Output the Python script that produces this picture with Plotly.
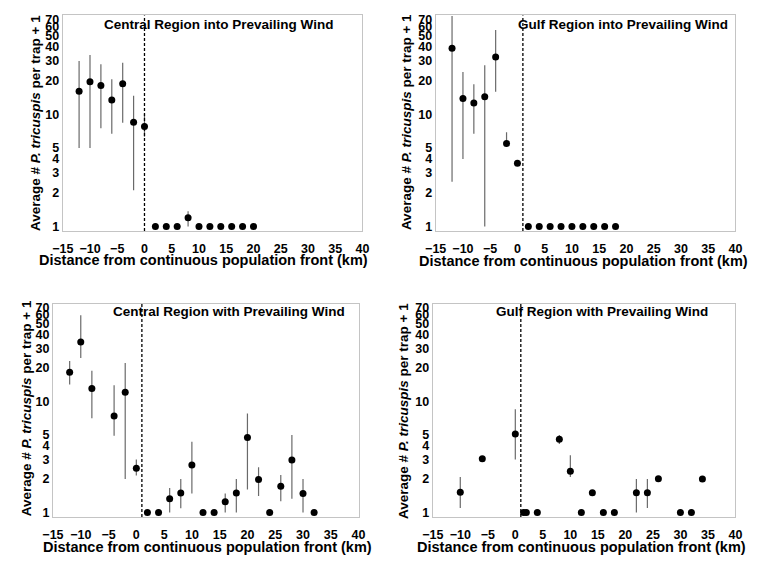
import plotly.graph_objects as go

# ---------------- data ----------------
titles = [
    "Central Region into Prevailing Wind",
    "Gulf Region into Prevailing Wind",
    "Central Region with Prevailing Wind",
    "Gulf Region with Prevailing Wind",
]
x_title = "Distance from continuous population front (km)"
y_title = "Average # <i>P. tricuspis</i> per trap + 1"

x_ticks = [-15, -10, -5, 0, 5, 10, 15, 20, 25, 30, 35, 40]
y_ticks = [1, 2, 3, 4, 5, 10, 20, 30, 40, 50, 60, 70]

front_km = [0, 1, 1, 1]  # dashed line: continuous population front

# Central region into prevailing wind
ci_x = [-12, -10, -8, -6, -4, -2, 0, 2, 4, 6, 8, 10, 12, 14, 16, 18, 20]
ci_y = [16.0, 19.5, 18.0, 13.4, 18.7, 8.5, 7.8, 1, 1, 1, 1.2, 1, 1, 1, 1, 1, 1]
ci_hi = [29.8, 33.8, 27.9, 20.5, 28.8, 14.6, 10.1, 1, 1, 1, 1.37, 1, 1, 1, 1, 1, 1]
ci_lo = [5.0, 5.0, 7.5, 6.7, 8.4, 2.1, 6.3, 1, 1, 1, 1.0, 1, 1, 1, 1, 1, 1]

# Gulf region into prevailing wind
gi_x = [-12, -10, -8, -6, -4, -2, 0, 2, 4, 6, 8, 10, 12, 14, 16, 18]
gi_y = [38.7, 13.8, 12.6, 14.3, 32.3, 5.5, 3.66, 1, 1, 1, 1, 1, 1, 1, 1, 1]
gi_hi = [75, 23.8, 18.5, 27.3, 56.4, 6.9, 3.66, 1, 1, 1, 1, 1, 1, 1, 1, 1]
gi_lo = [2.5, 4.0, 6.7, 1.0, 15.9, 5.3, 3.66, 1, 1, 1, 1, 1, 1, 1, 1, 1]

# Central region with prevailing wind
cw_x = [-12, -10, -8, -4, -2, 0, 2, 4, 6, 8, 10, 12, 14, 16, 18, 20, 22, 24, 26, 28, 30, 32]
cw_y = [18.3, 34.3, 13.1, 7.4, 12.1, 2.5, 1, 1, 1.33, 1.5, 2.68, 1, 1, 1.25, 1.5, 4.74, 1.98, 1, 1.72, 2.97, 1.48, 1]
cw_hi = [23.2, 59.8, 18.9, 14.0, 22.2, 3.0, 1, 1, 1.66, 2.0, 4.33, 1, 1, 1.48, 2.0, 7.8, 2.56, 1, 2.18, 5.0, 2.0, 1]
cw_lo = [14.2, 24.6, 7.05, 4.9, 2.0, 2.15, 1, 1, 1.0, 1.09, 1.48, 1, 1, 1.0, 1.0, 1.61, 1.41, 1, 1.26, 1.33, 1.0, 1]

# Gulf region with prevailing wind
gw_x = [-10, -6, 0, 1.5, 2, 4, 8, 10, 12, 14, 16, 18, 22, 24, 26, 30, 32, 34]
gw_y = [1.52, 3.05, 5.09, 1, 1, 1, 4.56, 2.35, 1, 1.51, 1, 1, 1.51, 1.51, 2.01, 1, 1, 2.0]
gw_hi = [2.09, 3.05, 8.5, 1, 1, 1, 5.0, 3.27, 1, 1.51, 1, 1, 2.0, 2.0, 2.01, 1, 1, 2.0]
gw_lo = [1.1, 3.05, 3.0, 1, 1, 1, 4.14, 2.09, 1, 1.51, 1, 1, 1.0, 1.1, 2.01, 1, 1, 2.0]

panels_data = [
    (ci_x, ci_y, ci_hi, ci_lo),
    (gi_x, gi_y, gi_hi, gi_lo),
    (cw_x, cw_y, cw_hi, cw_lo),
    (gw_x, gw_y, gw_hi, gw_lo),
]

# ---------------- layout geometry (pixels in a 760x561 canvas) ----------------
W, H = 760, 561
x_dom_px = [(53, 360), (435, 742), (43, 356), (432, 742)]
y_dom_px = [(12.6, 230.5), (12.6, 230.5), (304, 519.5), (304, 519.5)]
title_pos = [(213, 22), (627, 22), (223, 312), (605, 312)]
xtitle_pos = [(197, 260), (586, 261), (201, 550), (584, 550)]
ytitle_pos = [(25, 121), (405, 120), (16, 410), (402, 412)]

font_family = "Liberation Sans, Arial, sans-serif"

fig = go.Figure()
annotations = []
shapes = []

for i, (xs, ys, his, los) in enumerate(panels_data):
    n = "" if i == 0 else str(i + 1)
    xa, ya = "x" + n, "y" + n
    fig.add_trace(go.Scatter(
        x=xs, y=ys, mode="markers", xaxis=xa, yaxis=ya,
        marker=dict(color="black", size=7),
        error_y=dict(type="data", symmetric=False,
                     array=[h - v for h, v in zip(his, ys)],
                     arrayminus=[v - l for v, l in zip(ys, los)],
                     color="#6a6a6a", thickness=1.2, width=0),
        showlegend=False, hoverinfo="x+y",
    ))
    x0, x1 = x_dom_px[i]
    yt, yb = y_dom_px[i]
    fig.layout["xaxis" + n] = dict(
        domain=[x0 / W, x1 / W], range=[-15, 40], anchor=ya,
        tickvals=x_ticks, ticks="outside", ticklen=6, tickcolor="rgba(0,0,0,0)",
        tickfont=dict(family=font_family, size=12.5, color="black", weight="bold"),
        showgrid=False, zeroline=False, showline=True, linecolor="#c4c4c4",
        linewidth=1, mirror=True,
    )
    fig.layout["yaxis" + n] = dict(
        domain=[1 - yb / H, 1 - yt / H], type="log", range=[-0.04, 1.88], anchor=xa,
        tickvals=y_ticks, ticktext=[str(t) for t in y_ticks], ticks="",
        tickfont=dict(family=font_family, size=12.5, color="black", weight="bold"),
        showgrid=False, zeroline=False, showline=True, linecolor="#c4c4c4",
        linewidth=1, mirror=True,
    )
    shapes.append(dict(type="line", xref=xa, yref=ya + " domain",
                       x0=front_km[i], x1=front_km[i], y0=0, y1=1,
                       line=dict(color="black", width=1.3, dash="3px,2px")))
    tx, ty = title_pos[i]
    annotations.append(dict(text=titles[i], x=tx / W, y=1 - ty / H, xref="paper", yref="paper",
                            showarrow=False, xanchor="center", yanchor="middle",
                            font=dict(family=font_family, size=13.5, color="black", weight="bold")))
    tx, ty = xtitle_pos[i]
    annotations.append(dict(text=x_title, x=tx / W, y=1 - ty / H, xref="paper", yref="paper",
                            showarrow=False, xanchor="center", yanchor="middle",
                            font=dict(family=font_family, size=14.5, color="black", weight="bold")))
    tx, ty = ytitle_pos[i]
    annotations.append(dict(text=y_title, x=tx / W, y=1 - ty / H, xref="paper", yref="paper",
                            showarrow=False, xanchor="center", yanchor="middle", textangle=-90,
                            font=dict(family=font_family, size=13.5, color="black", weight="bold")))

fig.update_layout(
    width=W, height=H, margin=dict(l=0, r=0, t=0, b=0),
    paper_bgcolor="white", plot_bgcolor="white",
    annotations=annotations, shapes=shapes,
)

fig.write_html("out.html", config={"displayModeBar": False},
               post_script="document.body.style.margin='0';document.body.style.overflow='hidden';")
